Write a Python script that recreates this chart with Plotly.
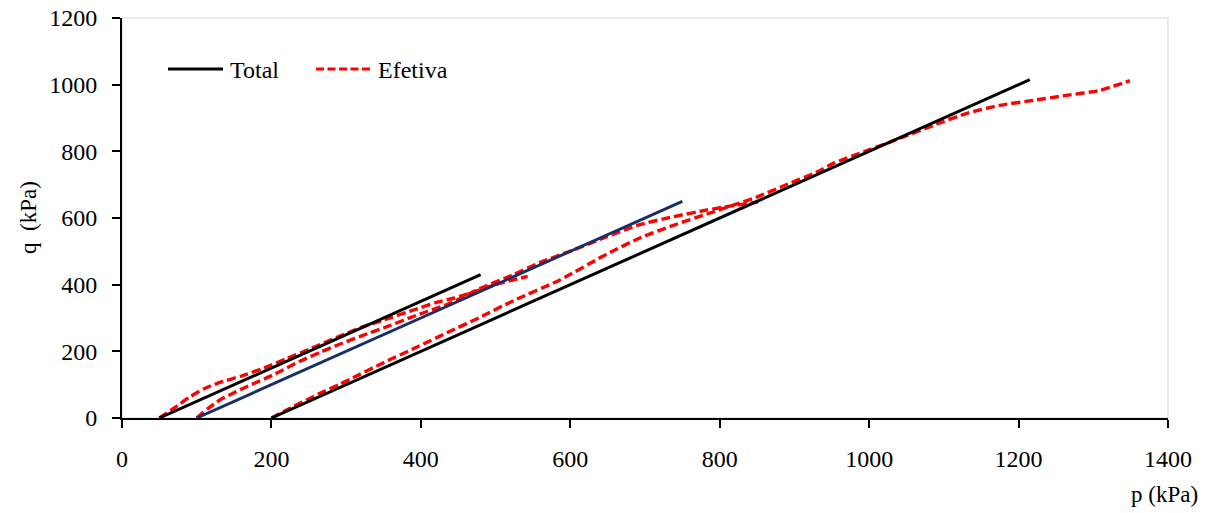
import plotly.graph_objects as go

# Total stress paths (p, q in kPa) for the three confining pressures
total_50_p = [50, 480]
total_50_q = [0, 430]
total_100_p = [100, 750]
total_100_q = [0, 650]
total_200_p = [200, 1215]
total_200_q = [0, 1015]

# Effective stress paths
eff_50_p = [50, 70, 90, 110, 130, 160, 190, 220, 250, 290, 320, 350, 390, 420, 445, 470, 500, 543]
eff_50_q = [0, 30, 62, 88, 106, 126, 150, 178, 206, 244, 272, 294, 324, 346, 360, 378, 400, 425]

eff_100_p = [100, 115, 131, 150, 167, 202, 238, 265, 292, 330, 350, 394, 439, 479, 524, 559,
             604, 649, 693, 738, 783, 809, 851]
eff_100_q = [0, 28, 54, 76, 94, 129, 170, 197, 222, 254, 270, 308, 344, 388, 430, 466,
             504, 544, 580, 604, 624, 634, 648]

eff_200_p = [200, 229, 265, 292, 305, 350, 394, 439, 479, 524, 586, 649, 693, 738, 783, 820,
             849, 885, 930, 952, 997, 1041, 1086, 1131, 1175, 1220, 1264, 1309, 1349]
eff_200_q = [0, 34, 74, 102, 116, 166, 212, 260, 302, 352, 414, 492, 540, 578, 612, 640,
             662, 696, 738, 764, 802, 839, 878, 914, 938, 953, 968, 983, 1012]

x_ticks = [0, 200, 400, 600, 800, 1000, 1200, 1400]
y_ticks = [0, 200, 400, 600, 800, 1000, 1200]

FONT = "Liberation Serif"
BLACK = "#000000"
NAVY = "#172F66"
RED = "#FF0000"

fig = go.Figure()

red_line = dict(color=RED, width=3.4, dash="9px,4px")
for p, q in [(eff_50_p, eff_50_q), (eff_100_p, eff_100_q), (eff_200_p, eff_200_q)]:
    fig.add_trace(go.Scatter(x=p, y=q, mode="lines", line=red_line,
                             line_shape="spline", line_smoothing=0.6,
                             showlegend=False, name="Efetiva"))

fig.add_trace(go.Scatter(x=total_50_p, y=total_50_q, mode="lines",
                         line=dict(color=BLACK, width=3), showlegend=False, name="Total"))
fig.add_trace(go.Scatter(x=total_100_p, y=total_100_q, mode="lines",
                         line=dict(color=NAVY, width=2.9), showlegend=False, name="Total"))
fig.add_trace(go.Scatter(x=total_200_p, y=total_200_q, mode="lines",
                         line=dict(color=BLACK, width=3), showlegend=False, name="Total"))

L, R, T, B = 122, 44, 18, 95
W, H = 1212, 513
plot_w = W - L - R
plot_h = H - T - B


def px_x(px):
    return (px - L) / plot_w


def px_y(py):
    return (H - B - py) / plot_h


shapes = [
    # light frame around the plotting area
    dict(type="rect", xref="paper", yref="paper", x0=0, y0=0, x1=1, y1=1,
         line=dict(color="#E3E3E3", width=1.5), layer="below"),
    # legend samples
    dict(type="line", xref="paper", yref="paper", x0=px_x(168), x1=px_x(223),
         y0=px_y(69), y1=px_y(69), line=dict(color=BLACK, width=3)),
    dict(type="line", xref="paper", yref="paper", x0=px_x(316), x1=px_x(372),
         y0=px_y(69), y1=px_y(69), line=dict(color=RED, width=3, dash="8px,3.5px")),
]

annotations = [
    dict(text="Total", xref="paper", yref="paper", x=px_x(228), y=px_y(70),
         xanchor="left", yanchor="middle", showarrow=False,
         font=dict(family=FONT, size=24, color=BLACK)),
    dict(text="Efetiva", xref="paper", yref="paper", x=px_x(376), y=px_y(70),
         xanchor="left", yanchor="middle", showarrow=False,
         font=dict(family=FONT, size=24, color=BLACK)),
    dict(text="p (kPa)", xref="paper", yref="paper", x=px_x(1200), y=px_y(494),
         xanchor="right", yanchor="middle", showarrow=False,
         font=dict(family=FONT, size=23, color=BLACK)),
    dict(text="q\u00a0 (kPa)", xref="paper", yref="paper", x=px_x(28), y=0.5,
         xanchor="center", yanchor="middle", textangle=-90, showarrow=False,
         font=dict(family=FONT, size=23, color=BLACK)),
]

fig.update_layout(
    width=W, height=H,
    margin=dict(l=L, r=R, t=T, b=B, pad=0, autoexpand=False),
    paper_bgcolor="white", plot_bgcolor="white",
    font=dict(family=FONT, size=24, color=BLACK),
    shapes=shapes, annotations=annotations,
    showlegend=False,
)

fig.update_xaxes(range=[0, 1400], tickvals=x_ticks, ticktext=[str(v) for v in x_ticks],
                 automargin=False,
                 showgrid=False, zeroline=False, showline=True, linecolor=BLACK, linewidth=2,
                 ticks="outside", ticklen=8, tickwidth=1.5, tickcolor=BLACK,
                 ticklabelstandoff=10, tickfont=dict(family=FONT, size=24, color=BLACK))
fig.update_yaxes(range=[0, 1200], tickvals=y_ticks, ticktext=[str(v) for v in y_ticks],
                 automargin=False,
                 showgrid=False, zeroline=False, showline=True, linecolor=BLACK, linewidth=2,
                 ticks="outside", ticklen=8, tickwidth=1.5, tickcolor=BLACK,
                 ticklabelstandoff=10, tickfont=dict(family=FONT, size=24, color=BLACK))

fig.write_html("out.html")
